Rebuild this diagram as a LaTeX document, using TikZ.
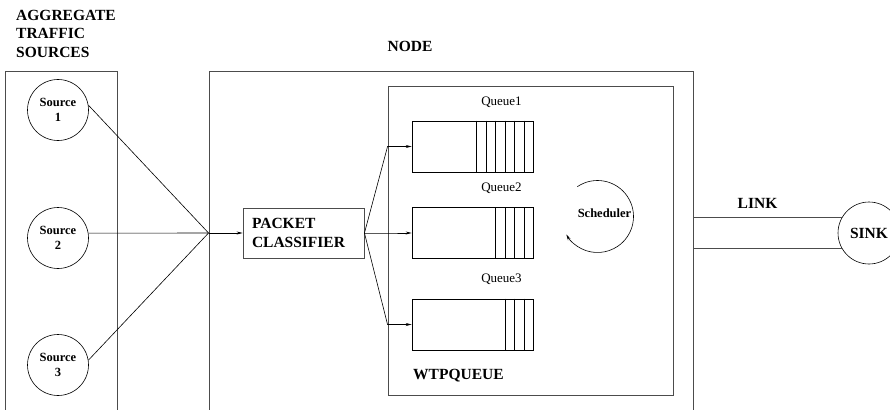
\documentclass[tikz,border=0pt]{standalone}
\usepackage{fontspec}
\setmainfont{Liberation Serif}
\usetikzlibrary{arrows.meta}
\tikzset{
  bigtext/.style={font=\bfseries\fontsize{15.5}{18.5}\selectfont},
  smalltext/.style={font=\fontsize{13}{15}\selectfont},
  frame/.style={draw=black!70, line width=0.9pt},
  flow/.style={line width=0.6pt},
  tip/.style={-{Stealth[length=6pt,width=3pt]}},
  source/.style={circle, draw=black, line width=0.6pt, minimum size=61pt, inner sep=0pt,
    align=center, font=\bfseries\fontsize{12.5}{15}\selectfont},
  queue/.style={rectangle, draw=black, line width=0.6pt, minimum width=121pt,
    minimum height=51pt, inner sep=0pt}
}
% vertical cell lines at the tail of a queue
\newcommand{\qcells}[2]{\foreach \i in {1,...,#2}
  \draw[flow] ([xshift=-\i*9.5pt]#1.north east) -- ([xshift=-\i*9.5pt]#1.south east);}
\begin{document}
\begin{tikzpicture}[x=1pt,y=-1pt]
\useasboundingbox (0,0) rectangle (890,409);
% titles
\node [bigtext, anchor=north west, align=left, inner sep=0pt] (aggtitle) at (16,10) {AGGREGATE\\TRAFFIC\\SOURCES};
\node [bigtext] (nodetitle) at (410,46) {NODE};
% frames
\node [frame, minimum width=112pt, minimum height=360pt, inner sep=0pt] (srcbox) at (61,251) {};
\node [frame, minimum width=484pt, minimum height=360pt, inner sep=0pt] (nodebox) at (451,251) {};
\node [frame, minimum width=285pt, minimum height=309pt, inner sep=0pt] (wtp) at (530.5,240.5) {};
\node [bigtext, anchor=west, inner sep=0pt] (wtptitle) at (413,376) {WTPQUEUE};
% sources
\node [source] (s1) at (58,110) {Source\\1};
\node [source] (s2) at (58,238) {Source\\2};
\node [source] (s3) at (58,365) {Source\\3};
% classifier
\node [bigtext, frame, text width=103pt, inner xsep=9pt, align=left, minimum height=50pt] (pc) at (303.5,233) {PACKET\\CLASSIFIER};
\coordinate (hub) at (nodebox.west |- pc.west);
\draw [flow] (s1.9) -- (hub);
\draw [flow] (s2.9) -- (hub);
\draw [flow] (s3.9) -- (hub);
\draw [flow, tip] (hub) -- (pc.west);
% queues
\node [queue] (q1) at (472.5,146.5) {};
\node [queue] (q2) at (472.5,233) {};
\node [queue] (q3) at (472.5,324.5) {};
\qcells{q1}{6}
\qcells{q2}{4}
\qcells{q3}{3}
\node [smalltext] (q1title) at ([xshift=29pt,yshift=18.5pt]q1.north) {Queue1};
\node [smalltext] (q2title) at ([xshift=29pt,yshift=19pt]q2.north) {Queue2};
\node [smalltext] (q3title) at ([xshift=29pt,yshift=19pt]q3.north) {Queue3};
\foreach \q in {q1,q2,q3}
  \draw [flow, tip] (pc.east) -- (wtp.west |- \q.west) -- (\q.west);
% scheduler
\coordinate (schc) at (597.5,216.5);
\node [font=\bfseries\fontsize{12.5}{15}\selectfont] (sch) at (604.5,213) {Scheduler};
\draw [flow, tip] (schc) ++(124:36pt) arc[start angle=124, end angle=-150, radius=36pt];
% link and sink
\node [circle, draw=black, line width=0.6pt, minimum size=62pt, inner sep=0pt, bigtext] (sink) at (869,233) {SINK};
\node [bigtext] (linktitle) at (757.5,203) {LINK};
\draw [frame] (nodebox.east |- sink.151) -- (sink.151);
\draw [frame] (nodebox.east |- sink.209) -- (sink.209);
\end{tikzpicture}
\end{document}
